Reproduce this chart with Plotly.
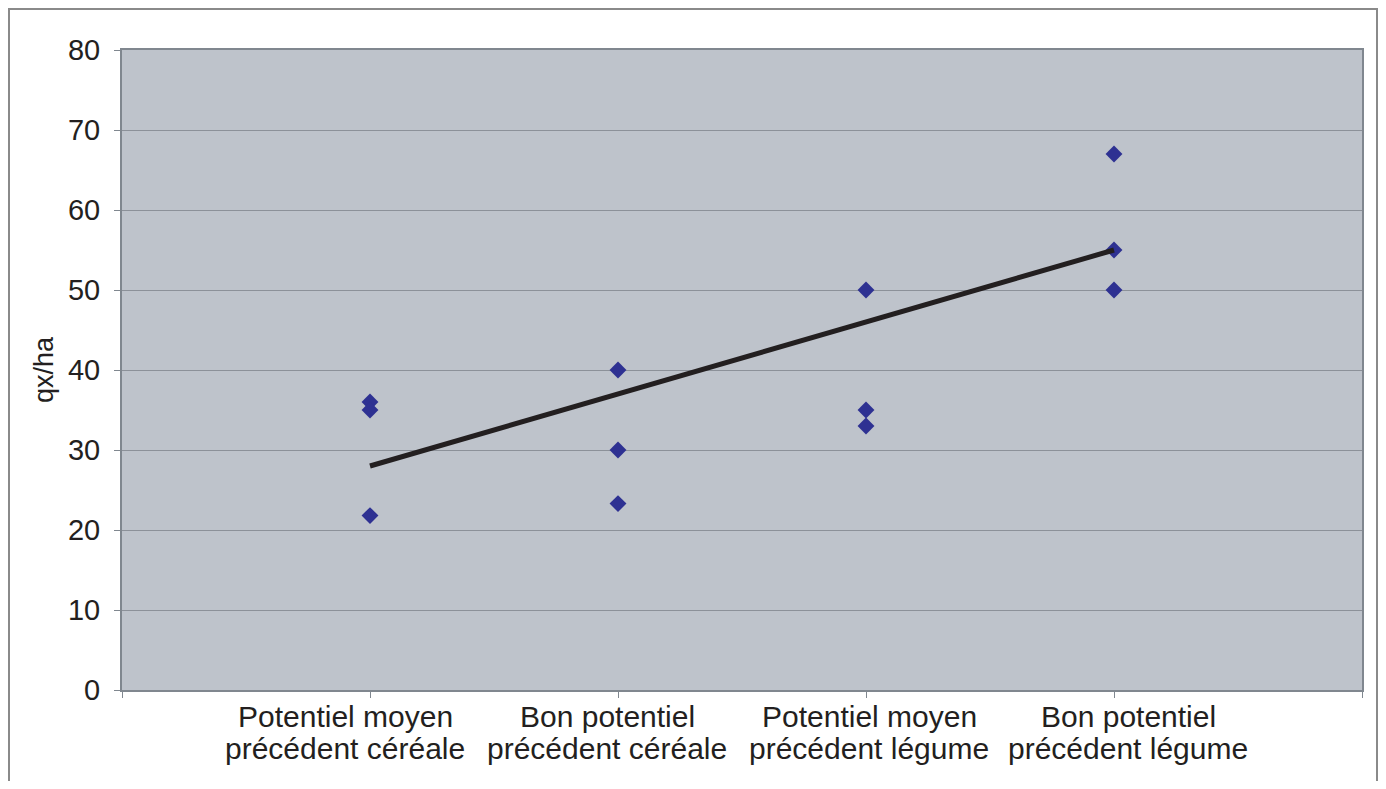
import plotly.graph_objects as go

cat_line1 = ["Potentiel moyen", "Bon potentiel", "Potentiel moyen", "Bon potentiel"]
cat_line2 = ["précédent céréale", "précédent céréale", "précédent légume", "précédent légume"]
cat_pos = [1, 2, 3, 4]
point_x = [1, 1, 1, 2, 2, 2, 3, 3, 3, 4, 4, 4]
point_y = [36, 35, 21.8, 40, 30, 23.3, 50, 35, 33, 67, 55, 50]
trend_x = [1, 4]
trend_y = [28, 55]
y_ticks = [0, 10, 20, 30, 40, 50, 60, 70, 80]

# label horizontal offsets (px) as seen in the reference
label_shift = [-25, -11, 3, 14]

fig = go.Figure()
fig.add_trace(go.Scatter(x=point_x, y=point_y, mode="markers",
                         marker=dict(symbol="diamond", size=13, color="#2E3192"),
                         showlegend=False, cliponaxis=False))
fig.add_trace(go.Scatter(x=trend_x, y=trend_y, mode="lines",
                         line=dict(color="#231F20", width=5), showlegend=False))

annotations = []
for pos, l1, l2, sh in zip(cat_pos, cat_line1, cat_line2, label_shift):
    annotations.append(dict(x=pos, xref="x", y=(690 - 716.5) / 640, yref="paper",
                            text=l1, showarrow=False, xshift=sh, xanchor="center",
                            yanchor="middle", borderpad=0,
                            font=dict(size=30, color="#231F20")))
    annotations.append(dict(x=pos, xref="x", y=(690 - 748.5) / 640, yref="paper",
                            text=l2, showarrow=False, xshift=sh, xanchor="center",
                            yanchor="middle", borderpad=0,
                            font=dict(size=30, color="#231F20")))

fig.update_layout(
    width=1370, height=773,
    margin=dict(l=114, r=16, t=42, b=91),
    paper_bgcolor="white", plot_bgcolor="#BEC3CB",
    font=dict(family="Liberation Sans, Arial, sans-serif", color="#231F20"),
    xaxis=dict(range=[0, 5], tickmode="array", tickvals=[0, 1, 2, 3, 4, 5],
               showticklabels=False, showgrid=False, zeroline=False,
               showline=True, mirror=True, linecolor="#80878F", linewidth=2,
               ticks="outside", ticklen=6, tickcolor="#80878F"),
    yaxis=dict(range=[0, 80], tickvals=y_ticks, showgrid=True, gridcolor="#8C9199",
               gridwidth=1, zeroline=False, showline=True, mirror=True,
               linecolor="#80878F", linewidth=2, ticks="outside", ticklen=6,
               tickcolor="#80878F", tickfont=dict(size=29), ticklabelstandoff=8,
               title=dict(text="qx/ha", font=dict(size=27), standoff=6)),
    annotations=annotations,
    shapes=[dict(type="rect", xref="paper", yref="paper",
                 x0=(9 - 122) / 1240, x1=(1377 - 122) / 1240,
                 y0=-0.2, y1=(690 - 9) / 640,
                 line=dict(color="#8A8A8A", width=2), fillcolor="rgba(0,0,0,0)", layer="below")],
)

fig.write_html("out.html")
